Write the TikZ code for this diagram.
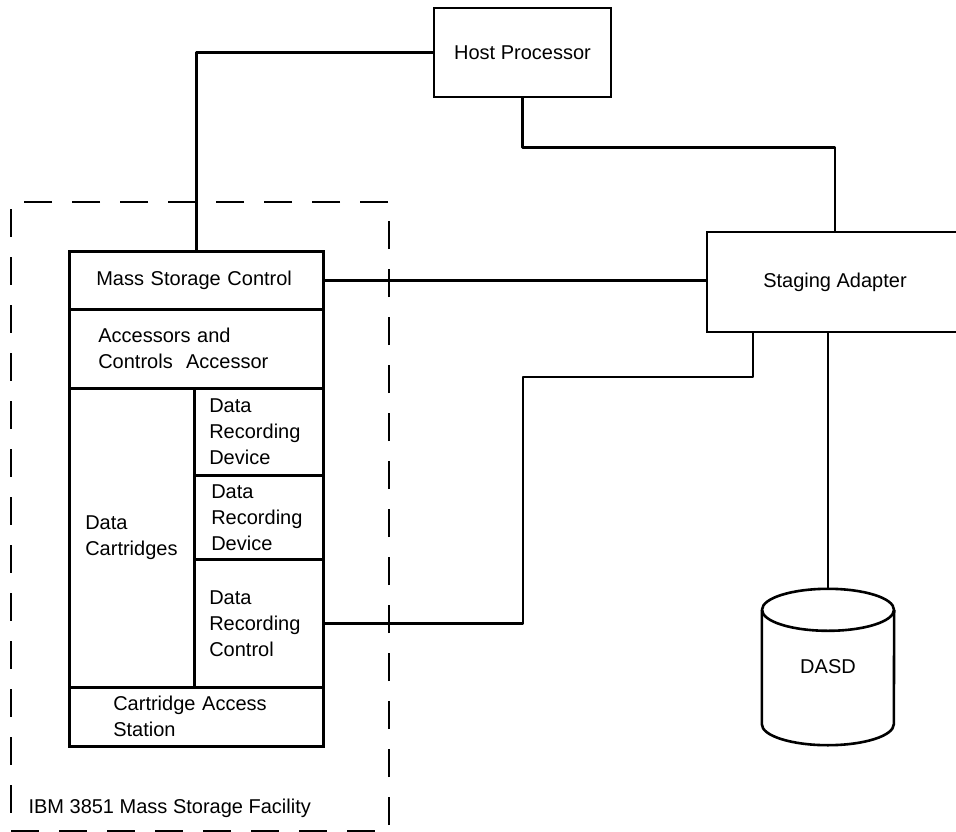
\documentclass[tikz,border=0pt]{standalone}
\usepackage{fontspec}
\setmainfont{Liberation Sans}
\begin{document}
\begin{tikzpicture}[x=1pt, y=-1pt,
    every node/.style={font=\fontsize{20}{26}\selectfont},
    box/.style={draw, line width=2.6pt},
    cell/.style={box, anchor=north west, align=left, inner ysep=0pt},
    wire/.style={line width=2.6pt, line join=round},
    frame/.style={draw, line width=2.2pt, dash pattern=on 28pt off 20pt}]

    \useasboundingbox (0,0) rectangle (956,832);
    \clip (0,0) rectangle (956,832);

    % facility frame
    \node (msf) at (10,201) [frame, anchor=north west, minimum width=378, minimum height=629] {};
    \node (msflabel) at (25,813) [anchor=base west] {IBM 3851 Mass Storage Facility};

    % the 3851 stack
    \node (msc) at (68,250) [cell, minimum height=58, text width=200, inner xsep=27] {Mass Storage Control};
    \node (acc) at (68,308) [cell, minimum height=79, text width=196, inner xsep=29] {Accessors and\\Controls\ \ Accessor};
    \node (cart) at (68,387) [cell, minimum height=299, text width=93, inner xsep=16] {Data\\Cartridges};
    \node (drd1) at (193,387) [cell, minimum height=87, text width=99, inner xsep=15] {Data\\Recording\\Device};
    \node (drd2) at (193,474) [cell, minimum height=84, text width=95, inner xsep=17] {Data\\Recording\\Device};
    \node (drc) at (193,558) [cell, minimum height=128, text width=99, inner xsep=15] {Data\\Recording\\Control};
    \node (cas) at (68,686) [cell, minimum height=59, text width=166, inner xsep=44] {Cartridge Access\\Station};

    % outside units
    \node (host) at (522.5,52.5) [box, minimum width=177, minimum height=89] {Host Processor};
    \node (sa) at (835,282) [box, minimum width=256, minimum height=100] {Staging Adapter};
    \node (dasd) at (828,667) [minimum width=132, minimum height=156] {DASD};
    \draw[wire] ([yshift=-21pt]dasd.north west) -- ([yshift=21pt]dasd.south west)
        arc[start angle=180, end angle=360, x radius=66pt, y radius=21pt]
        -- ([yshift=-21pt]dasd.north east);
    \draw[wire] ([yshift=-21pt]dasd.north) ellipse [x radius=66pt, y radius=21pt];

    % cables
    \coordinate (drcbend) at (523,377);
    \draw[wire] (host.west) -| (msc.north);
    \draw[wire] (host.south) -- ++(0,49) -| (sa.north);
    \draw[wire] (msc.east) -- (msc.east -| sa.west);
    \draw[wire] ([xshift=-82pt]sa.south) |- (drcbend) |- (drc.east);
    \draw[wire] (sa.south -| dasd.north) -- (dasd.north);

\end{tikzpicture}
\end{document}
